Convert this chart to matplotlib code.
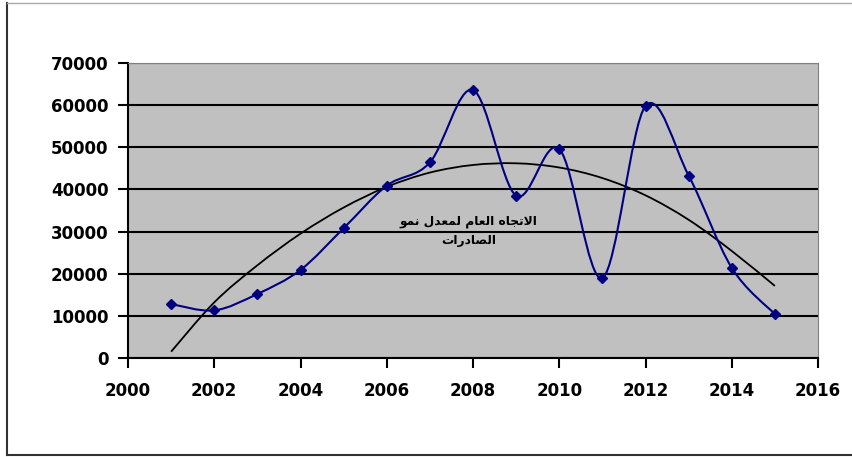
import matplotlib.pyplot as plt
import numpy as np
from matplotlib.path import Path
from matplotlib.patches import PathPatch

# exports by year
years = [2001, 2002, 2003, 2004, 2005, 2006, 2007, 2008,
         2009, 2010, 2011, 2012, 2013, 2014, 2015]
exports = [12800, 11300, 15200, 20900, 30800, 40900, 46400, 63600,
           38500, 49600, 19000, 59800, 43300, 21400, 10400]
# general trend line
trend = [1500, 13200, 22000, 29500, 35700, 40600, 44000, 45800,
         46200, 45200, 42700, 38600, 32800, 25400, 17100]

xticks = [2000, 2002, 2004, 2006, 2008, 2010, 2012, 2014, 2016]
yticks = [0, 10000, 20000, 30000, 40000, 50000, 60000, 70000]

label_line1 = 'الاتجاه العام لمعدل نمو'
label_line2 = 'الصادرات'

# minimal arabic shaping (matplotlib has no complex text layout)
forms = {
    'ا': (0xFE8D, 0xFE8E), 'د': (0xFEA9, 0xFEAA), 'ر': (0xFEAD, 0xFEAE),
    'و': (0xFEED, 0xFEEE),
    'ل': (0xFEDD, 0xFEDE, 0xFEDF, 0xFEE0), 'ت': (0xFE95, 0xFE96, 0xFE97, 0xFE98),
    'ج': (0xFE9D, 0xFE9E, 0xFE9F, 0xFEA0), 'ه': (0xFEE9, 0xFEEA, 0xFEEB, 0xFEEC),
    'ع': (0xFEC9, 0xFECA, 0xFECB, 0xFECC), 'م': (0xFEE1, 0xFEE2, 0xFEE3, 0xFEE4),
    'ن': (0xFEE5, 0xFEE6, 0xFEE7, 0xFEE8), 'ص': (0xFEB9, 0xFEBA, 0xFEBB, 0xFEBC),
}


def shape_word(w):
    out = []
    i = 0
    while i < len(w):
        ch = w[i]
        prev_j = i > 0 and len(forms.get(w[i - 1], ())) == 4
        if ch == 'ل' and i + 1 < len(w) and w[i + 1] == 'ا':
            out.append(chr(0xFEFC if prev_j else 0xFEFB))
            i += 2
            continue
        f = forms[ch]
        next_j = len(f) == 4 and i + 1 < len(w)
        if prev_j and next_j:
            c = f[3]
        elif prev_j:
            c = f[1]
        elif next_j:
            c = f[2]
        else:
            c = f[0]
        out.append(chr(c))
        i += 1
    return ''.join(out)


def shape(s):
    return ' '.join(shape_word(w) for w in s.split(' '))[::-1]


def smooth_path(xs, ys):
    # excel-like smoothed line: bezier segments through the points
    x = np.asarray(xs, dtype=float)
    y = np.asarray(ys, dtype=float)
    n = len(x)
    verts = [(x[0], y[0])]
    codes = [Path.MOVETO]
    for i in range(n - 1):
        a, b = max(i - 1, 0), min(i + 2, n - 1)
        c1 = (x[i] + (x[i + 1] - x[a]) / 6, y[i] + (y[i + 1] - y[a]) / 6)
        c2 = (x[i + 1] - (x[b] - x[i]) / 6, y[i + 1] - (y[b] - y[i]) / 6)
        verts += [c1, c2, (x[i + 1], y[i + 1])]
        codes += [Path.CURVE4] * 3
    return Path(verts, codes)


fig = plt.figure(figsize=(8.53, 4.57), dpi=100)
ax = fig.add_axes([128 / 853, 1 - 358 / 457, 690 / 853, 295 / 457])
ax.set_facecolor('#C0C0C0')

ax.add_patch(PathPatch(smooth_path(years, trend), fill=False,
                       edgecolor='black', linewidth=1.3, zorder=2))
ax.add_patch(PathPatch(smooth_path(years, exports), fill=False,
                       edgecolor='#000080', linewidth=1.5, zorder=3))
ax.plot(years, exports, linestyle='none', marker='D', markersize=5.5,
        color='#000080', zorder=4)

ax.text(2007.9, 32500, shape(label_line1), ha='center', va='center',
        fontsize=8.8, fontweight='bold', family='DejaVu Sans', zorder=5)
ax.text(2007.9, 28000, shape(label_line2), ha='center', va='center',
        fontsize=8.8, fontweight='bold', family='DejaVu Sans', zorder=5)

ax.set_xlim(2000, 2016)
ax.set_ylim(0, 70000)
ax.set_xticks(xticks)
ax.set_yticks(yticks)
ax.yaxis.grid(True, color='black', linewidth=1.5)
ax.set_axisbelow(True)
ax.tick_params(direction='out', length=7, width=1.5, labelsize=12)
ax.tick_params(axis='y', pad=7)
ax.tick_params(axis='x', pad=10)
for lab in ax.get_xticklabels() + ax.get_yticklabels():
    lab.set_fontweight('bold')
ax.spines['left'].set_linewidth(1.5)
ax.spines['bottom'].set_linewidth(1.5)
ax.spines['top'].set_color('#808080')
ax.spines['right'].set_color('#808080')

# outer chart frame
fig.add_artist(plt.Line2D([7 / 853, 7 / 853], [2 / 457, 1 - 3 / 457],
                          color='#333333', linewidth=1.5))
fig.add_artist(plt.Line2D([7 / 853, 1], [1 - 3 / 457, 1 - 3 / 457],
                          color='#AAAAAA', linewidth=1))
fig.add_artist(plt.Line2D([7 / 853, 1], [2 / 457, 2 / 457],
                          color='#333333', linewidth=1.5))

fig.savefig('out.png', dpi=100)
